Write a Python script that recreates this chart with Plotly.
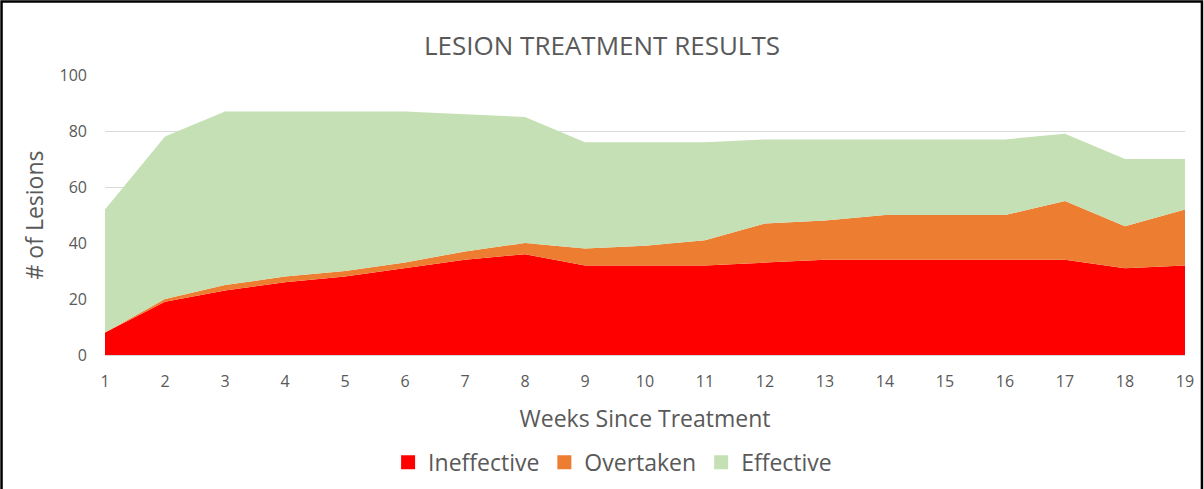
import plotly.graph_objects as go

weeks = list(range(1, 20))
ineffective = [8, 19, 23, 26, 28, 31, 34, 36, 32, 32, 32, 33, 34, 34, 34, 34, 34, 31, 32]
overtaken = [0, 1, 2, 2, 2, 2, 3, 4, 6, 7, 9, 14, 14, 16, 16, 16, 21, 15, 20]
effective = [44, 58, 62, 59, 57, 54, 49, 45, 38, 37, 35, 30, 29, 27, 27, 27, 24, 24, 18]

font_family = "'Open Sans', Lato, sans-serif"
grey = "#595959"

fig = go.Figure()

series = [
    ("Ineffective", ineffective, "#FF0000"),
    ("Overtaken", overtaken, "#ED7D31"),
    ("Effective", effective, "#C5E0B4"),
]
for name, vals, color in series:
    fig.add_trace(go.Scatter(
        x=weeks, y=vals,
        name=name,
        mode="lines",
        stackgroup="one",
        line=dict(width=0, color=color),
        fillcolor=color,
        showlegend=False,
    ))

# square legend keys like the spreadsheet legend
for name, vals, color in series:
    fig.add_trace(go.Scatter(
        x=[None], y=[None],
        name=name,
        mode="markers",
        marker=dict(symbol="square", size=14, color=color),
    ))

fig.update_layout(
    width=1204, height=489,
    paper_bgcolor="white",
    plot_bgcolor="white",
    margin=dict(l=105, r=19, t=75, b=134, autoexpand=False),
    title=dict(
        text="LESION TREATMENT RESULTS",
        x=0.5, xanchor="center",
        y=1 - 46 / 489, yanchor="middle",
        font=dict(family=font_family, size=26, color=grey),
    ),
    font=dict(family=font_family, color=grey),
    showlegend=True,
    legend=dict(
        orientation="h",
        x=0.47, xanchor="center",
        y=-0.383, yanchor="middle",
        font=dict(size=23, color=grey),
        traceorder="normal",
        itemwidth=30,
    ),
    xaxis=dict(
        range=[1, 19],
        tickmode="array",
        tickvals=weeks,
        ticktext=[str(w) for w in weeks],
        tickfont=dict(size=16, color=grey),
        ticklabelstandoff=12,
        showgrid=False,
        showline=True,
        linecolor="#d9d9d9",
        linewidth=1,
        ticks="",
        title=dict(text="Weeks Since Treatment", font=dict(size=23, color=grey), standoff=19),
        zeroline=False,
        automargin=False,
    ),
    yaxis=dict(
        range=[0, 100],
        dtick=20,
        tickfont=dict(size=16, color=grey),
        ticklabelstandoff=17,
        showgrid=True,
        gridcolor="#d9d9d9",
        gridwidth=1,
        zeroline=False,
        ticks="",
        title=dict(text="# of Lesions", font=dict(size=23, color=grey), standoff=9),
        automargin=False,
    ),
)

# outer chart frame (left, top, right)
fig.add_shape(
    type="path",
    xref="paper", yref="paper",
    path="M -0.0958,-0.48 L -0.0958,1.2625 L 1.0157,1.2625 L 1.0157,-0.48",
    line=dict(color="black", width=2.5),
)

fig.write_html(
    "out.html",
    config={"displayModeBar": False},
    post_script="document.body.style.margin='0'; document.body.style.overflow='hidden';",
)
